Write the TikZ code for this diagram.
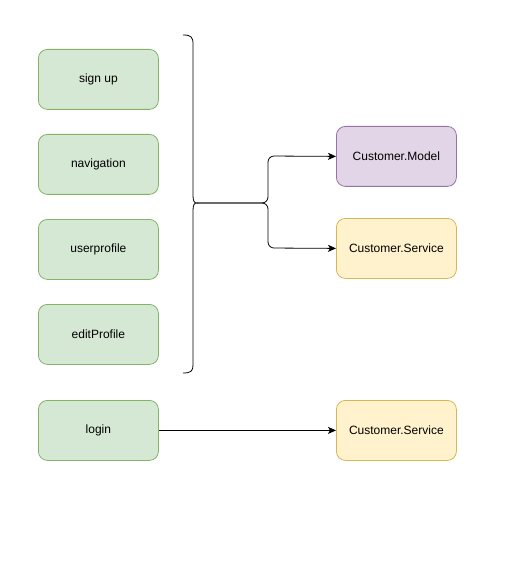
\documentclass[tikz,border=0pt]{standalone}
\usepackage{fontspec}
\setmainfont{Liberation Sans}
\usetikzlibrary{arrows.meta}
\definecolor{gfill}{HTML}{D5E8D4}
\definecolor{gline}{HTML}{82B366}
\definecolor{pfill}{HTML}{E1D5E7}
\definecolor{pline}{HTML}{9673A6}
\definecolor{yfill}{HTML}{FFF2CC}
\definecolor{yline}{HTML}{D6B656}
\begin{document}
\begin{tikzpicture}[x=1pt,y=-1pt,
  box/.style={rounded corners=9pt,minimum width=120pt,minimum height=60pt,
    inner sep=0pt,line width=0.8pt,font=\fontsize{12}{14}\selectfont,anchor=north west},
  greenbox/.style={box,fill=gfill,draw=gline},
  purplebox/.style={box,fill=pfill,draw=pline},
  yellowbox/.style={box,fill=yfill,draw=yline},
  conn/.style={line width=0.8pt,-{Stealth[length=8pt,width=7pt,inset=2pt]}},
  bracestyle/.style={line width=0.8pt}]
\useasboundingbox (0,0) rectangle (511,561);
\node[greenbox] (signup) at (38,49) {sign up};
\node[greenbox] (nav) at (38,134) {navigation};
\node[greenbox] (uprof) at (38,219) {userprofile};
\node[greenbox] (edit) at (38,304) {editProfile};
\node[greenbox] (login) at (38,400) {login};
\node[purplebox] (model) at (336,126) {Customer.Model};
\node[yellowbox] (serv) at (336,218) {Customer.Service};
\node[yellowbox] (serv2) at (336,400) {Customer.Service};
% brace
\coordinate (btop) at (183,35);
\coordinate (bbot) at (183,373);
\coordinate (btip) at (197,203);
\draw[bracestyle] (btop) .. controls (191,35) and (193,37) .. (193,44)
  -- (193,195) .. controls (193,201) and (194,203) .. (btip)
  .. controls (194,203) and (193,205) .. (193,211)
  -- (193,365) .. controls (193,371) and (191,373) .. (bbot);
\draw[conn,rounded corners=6pt] (btip) -- (268,203) -- (268,156) -- (model.west);
\draw[conn,rounded corners=6pt] (btip) -- (268,203) -- (268,248) -- (serv.west);
\draw[conn] (login.east) -- (serv2.west);
\end{tikzpicture}
\end{document}
